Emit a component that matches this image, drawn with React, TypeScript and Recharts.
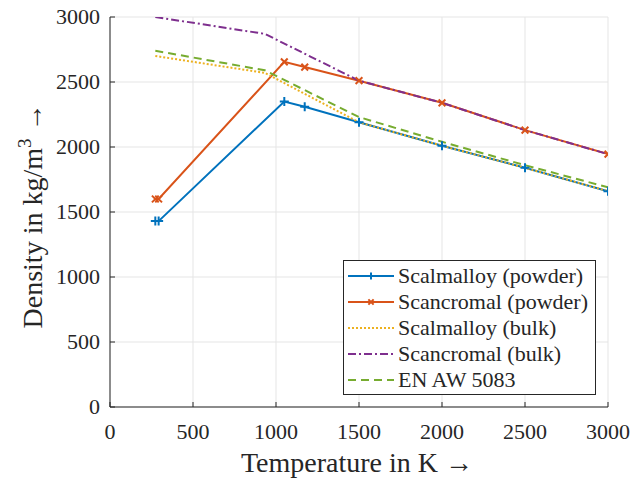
import React from 'react';
import { LineChart, Line, XAxis, YAxis, CartesianGrid, Legend, Label } from 'recharts';

// temperatures in K
const powderTemps = [273, 293, 1050, 1173, 1500, 2000, 2500, 3000];
const bulkTemps = [273, 933, 1500, 2000, 2500, 3000];

// densities in kg/m^3
const scalmalloyPowder = [1430, 1430, 2350, 2310, 2190, 2010, 1840, 1660];
const scancromalPowder = [1600, 1600, 2655, 2615, 2510, 2340, 2130, 1945];
const scalmalloyBulk = [2700, 2570, 2190, 2010, 1840, 1660];
const scancromalBulk = [3000, 2870, 2510, 2340, 2130, 1945];
const enAw5083 = [2740, 2590, 2230, 2040, 1860, 1690];

const xTicks = [0, 500, 1000, 1500, 2000, 2500, 3000];
const yTicks = [0, 500, 1000, 1500, 2000, 2500, 3000];

const toPoints = (temps: number[], vals: number[]) =>
	temps.map((t, i) => ({ t, v: vals[i] }));

const FONT = "'Liberation Serif', 'Times New Roman', serif";
const INK = '#262626';
const txt = { fontFamily: FONT };

type Marker = 'plus' | 'cross' | null;

const series: {
	name: string;
	data: { t: number; v: number }[];
	color: string;
	dash?: string;
	marker: Marker;
}[] = [
	{ name: 'Scalmalloy (powder)', data: toPoints(powderTemps, scalmalloyPowder), color: '#0072BD', marker: 'plus' },
	{ name: 'Scancromal (powder)', data: toPoints(powderTemps, scancromalPowder), color: '#D95319', marker: 'cross' },
	{ name: 'Scalmalloy (bulk)', data: toPoints(bulkTemps, scalmalloyBulk), color: '#EDB120', dash: '2 2', marker: null },
	{ name: 'Scancromal (bulk)', data: toPoints(bulkTemps, scancromalBulk), color: '#7E2F8E', dash: '8 3 2 3', marker: null },
	{ name: 'EN AW 5083', data: toPoints(bulkTemps, enAw5083), color: '#77AC30', dash: '8 5', marker: null },
];

function markerPath(kind: Marker, cx: number, cy: number, r = 4.5) {
	if (kind === 'plus') return `M${cx - r},${cy}H${cx + r}M${cx},${cy - r}V${cy + r}`;
	if (kind === 'cross') {
		const d = r * 0.75;
		return `M${cx - d},${cy - d}L${cx + d},${cy + d}M${cx - d},${cy + d}L${cx + d},${cy - d}`;
	}
	return '';
}

const makeDot = (kind: Marker, color: string) => (props: any) => {
	const { cx, cy, index } = props;
	if (!kind || cx == null || cy == null) return <g key={index} />;
	return (
		<path key={index} d={markerPath(kind, cx, cy)} stroke={color} strokeWidth={2} fill="none" />
	);
};

const XTick = (props: any) => {
	const { x, y, payload } = props;
	return (
		<g>
			<line x1={x} x2={x} y1={y} y2={y - 5} stroke={INK} strokeWidth={1} />
			<text x={x} y={y + 32} textAnchor="middle" style={txt} fontSize={22} fill={INK}>
				{payload.value}
			</text>
		</g>
	);
};

const YTick = (props: any) => {
	const { x, y, payload } = props;
	return (
		<g>
			<line x1={x} x2={x + 5} y1={y} y2={y} stroke={INK} strokeWidth={1} />
			<text x={x - 10} y={y + 7} textAnchor="end" style={txt} fontSize={22} fill={INK}>
				{payload.value}
			</text>
		</g>
	);
};

const LegendBox = () => (
	<svg width={254} height={136} style={{ display: 'block' }}>
		<rect x={0.5} y={0.5} width={252} height={134} fill="#fff" stroke={INK} strokeWidth={1} />
		{series.map((s, i) => {
			const cy = 16 + i * 26;
			return (
				<g key={s.name}>
					<line x1={5} x2={51} y1={cy} y2={cy} stroke={s.color} strokeWidth={2} strokeDasharray={s.dash} />
					{s.marker && (
						<path d={markerPath(s.marker, 28, cy, 3.5)} stroke={s.color} strokeWidth={2} fill="none" />
					)}
					<text x={55} y={cy + 7} style={txt} fontSize={22} fill={INK}>
						{s.name}
					</text>
				</g>
			);
		})}
	</svg>
);

export default function App() {
	return (
		<div style={{ position: 'absolute', left: 0, top: 0, width: 635, height: 480, background: '#fff' }}>
			<LineChart width={635} height={480} margin={{ top: 17, right: 27, bottom: 0, left: 0 }}>
				<CartesianGrid stroke="#E5E5E5" strokeWidth={1} />
				<XAxis
					type="number"
					dataKey="t"
					domain={[0, 3000]}
					ticks={xTicks}
					height={73}
					tickSize={0}
					tickMargin={0}
					tickLine={false}
					axisLine={{ stroke: INK }}
					tick={<XTick />}
					allowDataOverflow
				>
					<Label
						content={({ viewBox }: any) => (
							<text
								x={viewBox.x + viewBox.width / 2 - 2}
								y={viewBox.y + 65}
								textAnchor="middle"
								style={txt}
								fontSize={28}
								fill={INK}
							>
								Temperature in K →
							</text>
						)}
					/>
				</XAxis>
				<YAxis
					type="number"
					dataKey="v"
					domain={[0, 3000]}
					ticks={yTicks}
					width={110}
					tickSize={0}
					tickMargin={0}
					tickLine={false}
					axisLine={{ stroke: INK }}
					tick={<YTick />}
					allowDataOverflow
				>
					<Label
						content={({ viewBox }: any) => {
							const cx = 42;
							const cy = viewBox.y + viewBox.height / 2 + 4;
							return (
								<text
									x={cx}
									y={cy}
									transform={`rotate(-90 ${cx} ${cy})`}
									textAnchor="middle"
									style={txt}
									fontSize={28}
									fill={INK}
								>
									Density in kg/m
									<tspan dy={-11} fontSize={19}>3</tspan>
									<tspan dy={11}> →</tspan>
								</text>
							);
						}}
					/>
				</YAxis>
				<Legend
					layout="horizontal"
					verticalAlign="middle"
					align="center"
					wrapperStyle={{ left: 343, top: 260, width: 254, height: 136 }}
					content={<LegendBox />}
				/>
				{series.map((s) => (
					<Line
						key={s.name}
						data={s.data}
						dataKey="v"
						name={s.name}
						type="linear"
						stroke={s.color}
						strokeWidth={2}
						strokeDasharray={s.dash}
						dot={makeDot(s.marker, s.color)}
						activeDot={false}
						isAnimationActive={false}
					/>
				))}
			</LineChart>
		</div>
	);
}
